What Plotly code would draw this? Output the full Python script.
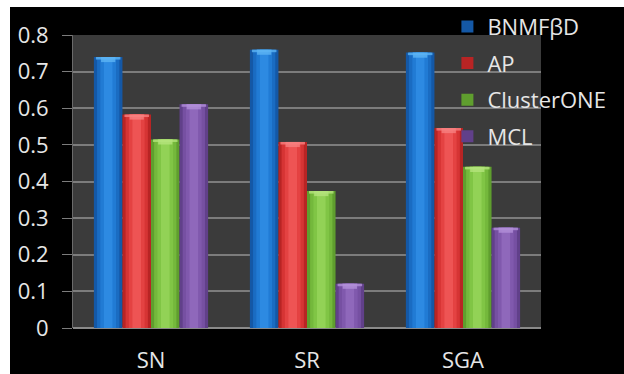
import plotly.graph_objects as go

# Scores per dataset for each clustering method
datasets = ["SN", "SR", "SGA"]
methods = ["BNMFβD", "AP", "ClusterONE", "MCL"]
bnmf = [0.74, 0.76, 0.752]
ap = [0.583, 0.508, 0.546]
clusterone = [0.515, 0.374, 0.44]
mcl = [0.611, 0.121, 0.274]
y_ticks = [0, 0.1, 0.2, 0.3, 0.4, 0.5, 0.6, 0.7, 0.8]

series = [bnmf, ap, clusterone, mcl]
# shading ramps (edge -> centre) used to give each bar a rounded look
ramps = [
    ["#1458a6", "#1a6cc2", "#217bd4", "#2d8ae2"],
    ["#b82424", "#d63434", "#e44242", "#ee5454"],
    ["#5f9e2e", "#74b83c", "#80c545", "#92d256"],
    ["#61408a", "#7650a2", "#8059ad", "#8f68bb"],
]
caps = ["#5cb4f4", "#f78080", "#b4e47c", "#b28ed8"]
shrink = [1.0, 0.78, 0.55, 0.3]

W, H = 624, 374
L, R, T, B = 73, 83, 35, 46
slot = 0.183
start = -2 * slot

fig = go.Figure()
for i, (name, vals) in enumerate(zip(methods, series)):
    for j, (c, s) in enumerate(zip(ramps[i], shrink)):
        w = slot * s
        off = start + i * slot + (slot - w) / 2
        fig.add_trace(go.Bar(
            x=datasets, y=vals, name=name,
            width=w, offset=off,
            marker=dict(color=c, line=dict(width=0)),
            showlegend=(j == 0), legendgroup=name,
            hoverinfo="skip" if j else None,
        ))
    # bevelled top cap: a wide light strip over a narrower one
    for frac, depth in [(0.86, 0.007), (0.5, 0.014)]:
        w = slot * frac
        off = start + i * slot + (slot - w) / 2
        fig.add_trace(go.Bar(
            x=datasets, y=[depth] * len(vals),
            base=[v - depth for v in vals],
            width=w, offset=off, opacity=0.8,
            marker=dict(color=caps[i], line=dict(width=0)),
            showlegend=False, legendgroup=name, hoverinfo="skip",
        ))

fig.update_layout(
    width=W, height=H,
    barmode="overlay",
    paper_bgcolor="#000000",
    plot_bgcolor="#3b3b3b",
    margin=dict(l=L, r=R, t=T, b=B, autoexpand=False),
    font=dict(family="Open Sans, sans-serif", size=22, color="#e6e6e6"),
    showlegend=True,
    legend=dict(
        x=0.80, y=1.10, xanchor="left", yanchor="top",
        bgcolor="rgba(0,0,0,0)",
        font=dict(size=22, color="#e6e6e6"),
        tracegroupgap=5, itemwidth=30,
    ),
    xaxis=dict(
        showgrid=False, showline=False, ticks="",
        ticklabelstandoff=17, zeroline=False,
    ),
    yaxis=dict(
        range=[0, 0.8], tickvals=y_ticks,
        ticktext=[f"{v:g}" for v in y_ticks],
        showgrid=True, gridcolor="#7c7c7c", gridwidth=1.5,
        ticks="outside", ticklen=10, tickcolor="#7c7c7c",
        showline=True, linecolor="#6a6a6a", linewidth=1,
        zeroline=True, zerolinecolor="#8a8a8a", zerolinewidth=2,
        ticklabelstandoff=9,
    ),
    shapes=[
        # white border strips along the top and left edges of the page
        dict(type="rect", xref="paper", yref="paper",
             x0=-L / (W - L - R), x1=(W - L) / (W - L - R),
             y0=1 + (T - 7) / (H - T - B), y1=1 + T / (H - T - B),
             fillcolor="#ffffff", line=dict(width=0), layer="below"),
        dict(type="rect", xref="paper", yref="paper",
             x0=-L / (W - L - R), x1=-(L - 10) / (W - L - R),
             y0=-B / (H - T - B), y1=1 + T / (H - T - B),
             fillcolor="#ffffff", line=dict(width=0), layer="below"),
    ],
)

fig.write_html("out.html")
